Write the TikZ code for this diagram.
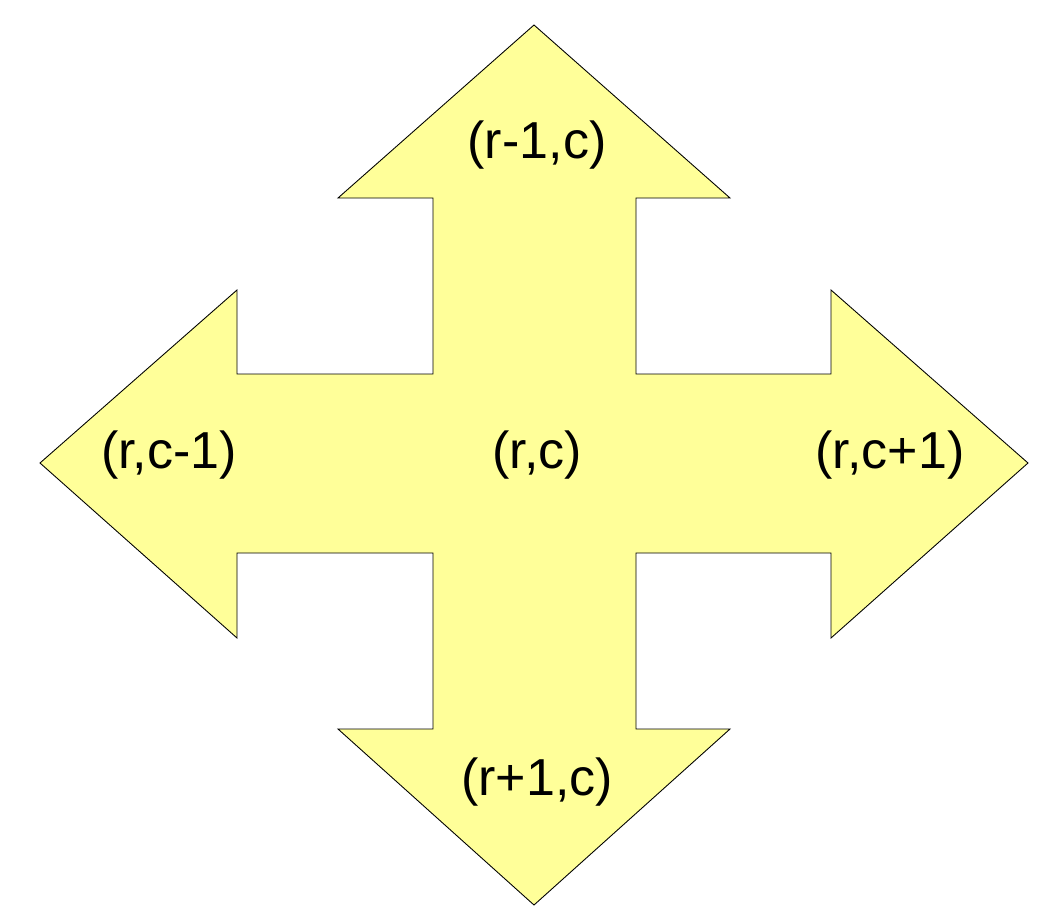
\documentclass[tikz,border=0pt]{standalone}
\usepackage{fontspec}
\setmainfont{Liberation Sans}
\usetikzlibrary{positioning}
\definecolor{crossyellow}{RGB}{255,255,153}
\tikzset{
    crossshape/.style={draw=black, line width=0.5pt, fill=crossyellow, line join=miter},
    celllabel/.style={font=\fontsize{29.6}{35}\selectfont, inner sep=0pt, anchor=center}
}
\begin{document}
\begin{tikzpicture}[x=0.02cm,y=-0.02cm]
            % Frame of the picture
            \useasboundingbox (0,0) rectangle (1052,916);
            
            % Four-way arrow
            \draw[crossshape] (534,25) -- (730,198) -- (636,198) -- (636,374)
                -- (831,374) -- (831,290) -- (1028,463) -- (831,638) -- (831,553)
                -- (636,553) -- (636,729) -- (730,729) -- (534,905) -- (338,729)
                -- (433,729) -- (433,553) -- (237,553) -- (237,638) -- (40,463)
                -- (237,290) -- (237,374) -- (433,374) -- (433,198) -- (338,198) -- cycle;
            
            % Cell labels
            \node[celllabel] (centre) at (537,455) {(r,c)};
            \node[celllabel] (north)  at (537,145) {(r-1,c)};
            \node[celllabel] (south)  at (537,782) {(r+1,c)};
            \node[celllabel] (west)   at (169,455) {(r,c-1)};
            \node[celllabel] (east)   at (890,455) {(r,c+1)};
        \end{tikzpicture}
\end{document}
